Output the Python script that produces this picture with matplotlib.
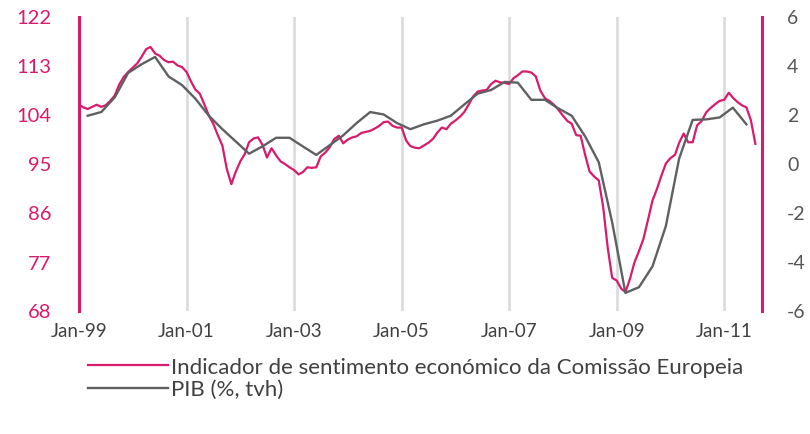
import matplotlib
matplotlib.use('Agg')
import matplotlib.pyplot as plt
import matplotlib.dates as mdates
import pandas as pd

plt.rcParams['font.family'] = ['Lato', 'DejaVu Sans']
plt.rcParams['axes.unicode_minus'] = False

# Indicador de sentimento economico (mensal, Jan-99 .. Ago-11)
esi = [105.8, 105.3, 105.0, 105.4, 105.8, 105.4, 105.7, 106.5, 107.5, 109.5, 110.9, 111.8,
       112.6, 113.4, 114.6, 116.0, 116.4, 115.2, 114.8, 114.0, 113.6, 113.7, 113.0, 112.7,
       111.8, 110.0, 108.6, 107.8, 105.9, 103.8, 102.3, 100.2, 98.3, 94.0, 91.2, 93.5,
       95.4, 96.8, 98.9, 99.6, 99.8, 98.4, 96.1, 97.8, 96.5, 95.4, 94.9, 94.3,
       93.8, 93.0, 93.4, 94.3, 94.2, 94.3, 96.3, 97.0, 98.0, 99.5, 100.1, 98.7,
       99.4, 99.8, 100.0, 100.6, 100.8, 101.0, 101.4, 101.9, 102.6, 102.7, 101.9, 101.6,
       101.6, 99.2, 98.2, 97.9, 97.8, 98.3, 98.8, 99.5, 100.7, 101.6, 101.3, 102.3,
       102.9, 103.6, 104.4, 105.8, 107.3, 108.2, 108.4, 108.5, 109.6, 110.2, 109.9, 109.8,
       109.6, 110.7, 111.2, 111.9, 111.9, 111.7, 111.0, 108.4, 107.0, 106.5, 105.8, 104.9,
       103.8, 102.8, 102.3, 100.2, 100.1, 96.5, 93.5, 92.6, 91.9, 87.0, 79.5, 74.0,
       73.5, 72.0, 71.4, 73.8, 76.8, 78.9, 81.1, 84.6, 88.2, 90.3, 92.8, 95.0,
       96.0, 96.6, 98.8, 100.5, 98.9, 98.9, 102.0, 102.8, 104.4, 105.2, 105.9, 106.5,
       106.7, 108.0, 107.1, 106.3, 105.7, 105.3, 103.0, 98.6]

# PIB, taxa de variacao homologa (trimestral, 1T99 .. 2T11)
pib = [1.95, 2.1, 2.7, 3.7,
       4.05, 4.35, 3.55, 3.2,
       2.65, 1.95, 1.4, 0.9,
       0.4, 0.7, 1.05, 1.05,
       0.7, 0.35, 0.75, 1.15,
       1.65, 2.1, 2.0, 1.65,
       1.4, 1.6, 1.75, 1.95,
       2.4, 2.85, 3.0, 3.33,
       3.3, 2.6, 2.6, 2.25,
       1.95, 1.1, 0.05, -2.4,
       -5.28, -5.05, -4.2, -2.55,
       0.2, 1.78, 1.8, 1.88,
       2.28, 1.6]

esi_dates = pd.date_range('1999-01-01', periods=len(esi), freq='MS')
pib_dates = pd.date_range('1999-03-01', periods=len(pib), freq='3MS')

pink = '#d81b6a'
grey = '#5f6061'

fig = plt.figure(figsize=(8.1, 4.35), dpi=100)
ax = fig.add_axes([79 / 810, 1 - 311.5 / 435, 683 / 810, 294 / 435])
ax2 = ax.twinx()

l1, = ax.plot(esi_dates, esi, color=pink, lw=1.6)
l2, = ax2.plot(pib_dates, pib, color=grey, lw=1.7)

ax.set_xlim(pd.Timestamp('1999-01-01'), pd.Timestamp('2011-09-15'))
ax.set_ylim(68, 122)
ax.set_yticks(range(68, 123, 9))
ax2.set_ylim(-6, 6)
ax2.set_yticks(range(-6, 7, 2))

xt = pd.date_range('1999-01-01', '2011-01-01', freq='24MS')
ax.set_xticks(xt)
ax.xaxis.set_major_formatter(mdates.DateFormatter('%b-%y'))
ax.grid(axis='x', color='#d9d9d9', lw=1.8)
ax.set_axisbelow(True)

for s in ['top', 'bottom', 'right']:
    ax.spines[s].set_visible(False)
for s in ['top', 'bottom', 'left']:
    ax2.spines[s].set_visible(False)
ax.spines['left'].set_color(pink)
ax.spines['left'].set_linewidth(2.2)
ax2.spines['right'].set_color(pink)
ax2.spines['right'].set_linewidth(2.2)

ax.tick_params(axis='y', length=0, pad=20, labelsize=14.5, labelcolor=pink)
ax.tick_params(axis='x', length=0, pad=8, labelsize=13.5, labelcolor='#404040')
ax2.tick_params(axis='y', length=0, pad=18, labelsize=14, labelcolor='#555555')

fig.legend([l1, l2], ['Indicador de sentimento económico da Comissão Europeia', 'PIB (%, tvh)'],
           loc='upper left', bbox_to_anchor=(77 / 810, 1 - 347 / 435), frameon=False,
           fontsize=16, handlelength=3.6, handletextpad=0.12, labelspacing=0.1,
           borderpad=0, labelcolor='#404040')

plt.savefig('out.png', dpi=100)
